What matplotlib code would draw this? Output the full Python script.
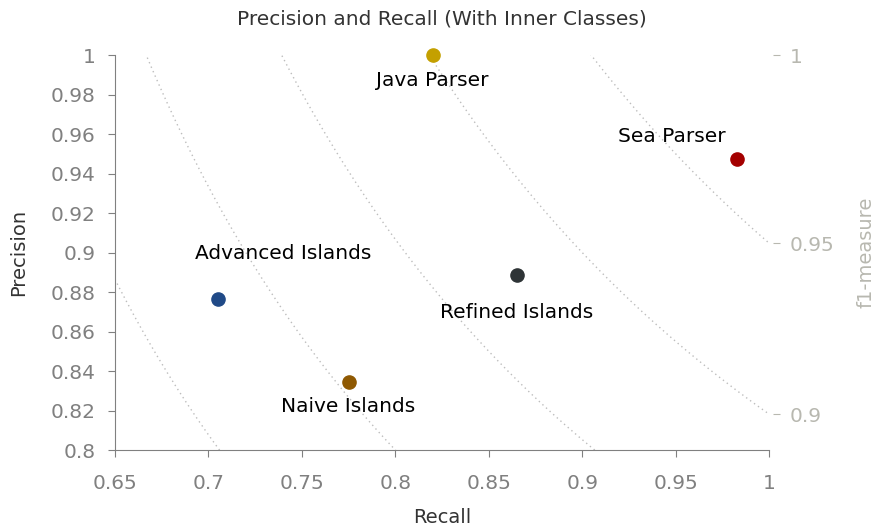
import numpy as np
import matplotlib
matplotlib.use('Agg')
import matplotlib.pyplot as plt

# Datos
names = ['Java Parser', 'Sea Parser', 'Refined Islands', 'Advanced Islands', 'Naive Islands']
recall = [0.82, 0.983, 0.865, 0.705, 0.775]
precision = [1.0, 0.9475, 0.8885, 0.8765, 0.8345]
colors = ['#c4a000', '#a40000', '#2e3436', '#204a87', '#8f5902']
label_offsets = [(0, -18), (-47, 16), (0, -27), (47, 33), (0, -18)]

f1_levels = [0.75, 0.8, 0.85, 0.9, 0.95]
f1_ticks = [0.9, 0.95, 1.0]
f1_labels = ['0.9', '0.95', '1']

grey = '#808080'
light = '#b8b8b0'

fig = plt.figure(figsize=(8.76, 5.32), dpi=100)
ax = fig.add_axes([0.1313, 0.1541, 0.7466, 0.7425])

# curvas iso-f1
r = np.linspace(0.6, 1.0, 400)
for f in f1_levels:
    with np.errstate(divide='ignore', invalid='ignore'):
        p = f * r / (2 * r - f)
    p[(p < 0) | (p > 1.2)] = np.nan
    ax.plot(r, p, linestyle=(0, (1, 2.5)), color='#bdbdbd', lw=1.0, zorder=1)

for n, x, y, c, off in zip(names, recall, precision, colors, label_offsets):
    ax.plot(x, y, 'o', color=c, ms=9.5, zorder=3, clip_on=False)
    ax.annotate(n, (x, y), xytext=off, textcoords='offset points',
                ha='center', va='center', fontsize=14.5, color='black')

ax.set_xlim(0.65, 1.0)
ax.set_ylim(0.8, 1.0)
ax.set_xticks([0.65, 0.7, 0.75, 0.8, 0.85, 0.9, 0.95, 1.0])
ax.set_xticklabels(['0.65', '0.7', '0.75', '0.8', '0.85', '0.9', '0.95', '1'])
ax.set_yticks(np.arange(0.8, 1.001, 0.02))
ax.set_yticklabels(['0.8', '0.82', '0.84', '0.86', '0.88', '0.9', '0.92', '0.94', '0.96', '0.98', '1'])
for s in ['top', 'right']:
    ax.spines[s].set_visible(False)
for s in ['left', 'bottom']:
    ax.spines[s].set_color(grey)
ax.tick_params(colors=grey, labelsize=14.5, length=5)
ax.tick_params(axis='x', pad=12)
ax.tick_params(axis='y', pad=9)
ax.set_xlabel('Recall', fontsize=14, color='#333333', labelpad=11)
ax.set_ylabel('Precision', fontsize=14, color='#333333', labelpad=16)
ax.set_title('Precision and Recall (With Inner Classes)', fontsize=14.5, color='#333333', pad=22)

# eje derecho f1
ax2 = ax.twinx()
ax2.set_ylim(0.8, 1.0)
ax2.set_yticks([f / (2 - f) for f in f1_ticks])
ax2.set_yticklabels(f1_labels)
for s in ['top', 'left', 'bottom']:
    ax2.spines[s].set_visible(False)
ax2.spines['right'].set_position(('outward', 3))
ax2.spines['right'].set_visible(False)
ax2.tick_params(colors=light, labelsize=14.5, length=5, pad=7)
ax2.set_ylabel('f1-measure', fontsize=14, color=light, labelpad=16)

fig.savefig('out.png', dpi=100)
